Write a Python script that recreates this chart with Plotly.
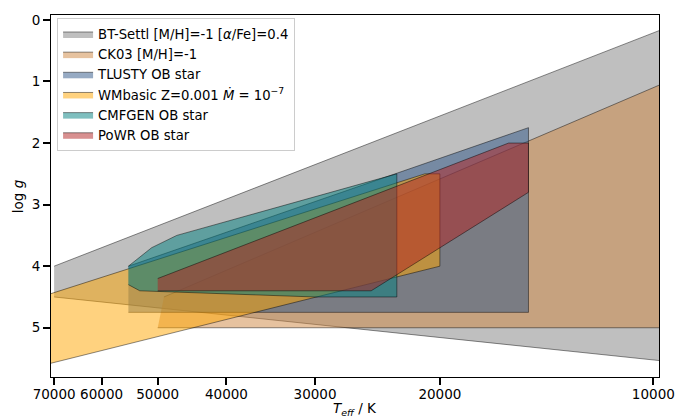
import plotly.graph_objects as go

# ---- data (Teff in K, log g) : polygon vertices of each model grid coverage ----
bt_teff = [70000, 9500, 9500, 70000]
bt_logg = [4.0, 0.11, 5.55, 4.5]

ck_teff = [49000, 9500, 9500, 50000]
ck_logg = [4.5, 0.99, 5.0, 5.0]

tl_teff = [55000, 15000, 15000, 55000]
tl_logg = [4.0, 1.75, 4.75, 4.75]

wm_teff = [75000, 21000, 20000, 20000, 75000]
wm_logg = [4.54, 2.5, 2.5, 4.0, 5.65]

cm_teff = [55000, 51000, 47000, 23000, 23000, 30000, 53000, 55000]
cm_logg = [4.0, 3.7, 3.5, 2.5, 4.5, 4.5, 4.4, 4.3]

pw_teff = [50000, 16000, 15000, 15000, 25000, 50000]
pw_logg = [4.2, 2.0, 2.0, 2.8, 4.4, 4.4]

names = [
    "BT-Settl [M/H]=-1 [<i>α</i>/Fe]=0.4",
    "CK03 [M/H]=-1",
    "TLUSTY OB star",
    "WMbasic Z=0.001 <i>Ṁ</i> = 10<sup>−7</sup>",
    "CMFGEN OB star",
    "PoWR OB star",
]
colors = [
    "rgba(128,128,128,0.5)",
    "rgba(205,133,63,0.5)",
    "rgba(45,85,135,0.5)",
    "rgba(255,165,0,0.5)",
    "rgba(0,128,128,0.5)",
    "rgba(178,34,34,0.5)",
]
teffs = [bt_teff, ck_teff, tl_teff, wm_teff, cm_teff, pw_teff]
loggs = [bt_logg, ck_logg, tl_logg, wm_logg, cm_logg, pw_logg]

xticks = [70000, 60000, 50000, 40000, 30000, 20000, 10000]
yticks = [0, 1, 2, 3, 4, 5]

FONT = "DejaVu Sans"

fig = go.Figure()
for t, g, n, c in zip(teffs, loggs, names, colors):
    fig.add_trace(go.Scatter(
        x=t, y=g, name=n, mode="lines", fill="toself", fillcolor=c,
        line=dict(color="rgba(0,0,0,0.45)", width=1),
    ))

fig.update_layout(
    width=687, height=419,
    margin=dict(l=51, r=28, t=12, b=42),
    paper_bgcolor="white", plot_bgcolor="white",
    font=dict(family=FONT, size=13.5, color="black"),
    showlegend=True,
    legend=dict(
        x=0.01, y=0.992, xanchor="left", yanchor="top",
        bgcolor="rgba(255,255,255,0.8)", bordercolor="#cccccc", borderwidth=1,
        font=dict(family=FONT, size=13.2, color="black"),
        tracegroupgap=0,
    ),
    xaxis=dict(
        type="log", range=[4.8495, 3.992],
        tickmode="array", tickvals=xticks, ticktext=[str(v) for v in xticks],
        ticks="outside", ticklen=7, tickwidth=1.6, tickcolor="black",
        ticklabelstandoff=-2,
        showline=True, linecolor="black", linewidth=1.1, mirror=True,
        showgrid=False, zeroline=False,
    ),
    yaxis=dict(
        range=[5.8, -0.08],
        tickmode="array", tickvals=yticks,
        ticks="outside", ticklen=7, tickwidth=1.6, tickcolor="black",
        showline=True, linecolor="black", linewidth=1.1, mirror=True,
        showgrid=False, zeroline=False,
    ),
    annotations=[
        dict(text="<i>T</i><sub><i>eff</i></sub> / K", xref="paper", yref="paper",
             x=0.5, y=-0.088, xanchor="center", yanchor="middle", showarrow=False,
             font=dict(family=FONT, size=13.5)),
        dict(text="log <i>g</i>", xref="paper", yref="paper",
             x=-0.054, y=0.5, xanchor="center", yanchor="middle", showarrow=False,
             textangle=-90, font=dict(family=FONT, size=13.5)),
    ],
)

fig.write_html("out.html")
